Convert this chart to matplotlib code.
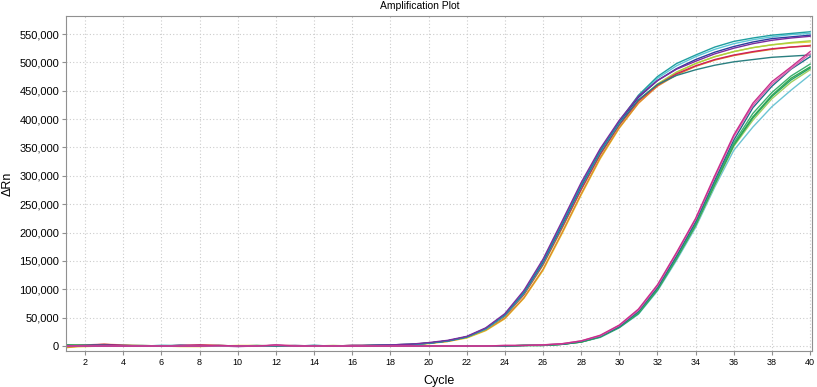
import numpy as np
import matplotlib
matplotlib.use("Agg")
import matplotlib.pyplot as plt
from matplotlib.ticker import StrMethodFormatter

plt.rcParams['font.family'] = ['Liberation Sans', 'DejaVu Sans']

cycles = np.arange(1, 41)

# early group (values in thousands of dRn)
a_purple = [1, 2, 2, 1, 0, 0, 1, 1, 0, -1, 0, 1, 0, 0, 0, 1, 1, 2, 3, 6, 10, 17, 32, 57, 98, 153, 220, 288, 348, 398, 440, 468, 488, 502, 515, 525, 533, 539, 543, 546]
a_teal = [0, 1, 1, 0, 0, 1, 1, 0, 0, 0, 1, 0, 0, 1, 0, 0, 1, 2, 3, 5, 9, 16, 31, 55, 95, 150, 216, 284, 345, 396, 442, 475, 498, 513, 527, 537, 543, 548, 551, 554]
a_cyan = [1, 0, 0, 1, 1, 0, 0, 0, 1, 0, 0, 0, 1, 0, 0, 1, 1, 1, 2, 5, 9, 16, 30, 54, 93, 147, 213, 281, 343, 394, 440, 472, 494, 510, 523, 533, 540, 545, 549, 551]
a_blue = [0, 1, 1, 0, 0, 0, 1, 0, 0, 0, 0, 1, 0, 0, 0, 0, 1, 2, 3, 5, 9, 16, 31, 55, 94, 148, 214, 282, 344, 395, 438, 468, 489, 505, 518, 528, 536, 542, 545, 548]
a_lime = [-1, 0, 1, 1, 0, 0, 0, 1, 1, 0, 0, 0, 0, 0, 1, 0, 1, 1, 2, 5, 9, 15, 29, 52, 90, 142, 207, 275, 337, 389, 432, 462, 483, 498, 510, 519, 526, 531, 535, 538]
a_red = [0, 2, 3, 1, 0, 0, 1, 2, 1, 0, 0, 1, 1, 0, 0, 1, 1, 2, 3, 5, 9, 16, 30, 53, 91, 144, 209, 276, 338, 390, 432, 460, 480, 494, 505, 513, 519, 524, 527, 529]
a_orange = [-3, 1, 3, 2, 1, 0, 1, 1, 1, 0, 0, 0, 0, 0, 0, 1, 1, 1, 2, 5, 8, 15, 28, 49, 85, 135, 200, 268, 332, 385, 428, 458, 478, 493, 504, 512, 518, 523, 527, 530]
a_yellow = [-2, -1, 0, 0, 0, 0, -1, -1, 0, 1, 1, 0, 0, 0, 0, 0, 1, 1, 2, 4, 8, 14, 27, 48, 84, 133, 198, 266, 330, 384, 428, 460, 482, 498, 510, 519, 526, 531, 534, 536]
a_darkteal = [1, 1, 0, 0, 0, 0, 0, 0, 0, 0, 0, 0, 0, 0, 0, 0, 1, 1, 2, 5, 9, 16, 30, 54, 93, 146, 212, 280, 341, 392, 434, 461, 477, 487, 495, 501, 505, 509, 511, 513]

# late group
b_magenta = [0, 0, 0, 0, 0, 0, 0, 0, 1, 0, 0, 2, 0, 0, 0, 0, 0, 0, 0, 0, 0, 0, 0, 1, 1, 2, 4, 9, 19, 37, 65, 108, 165, 225, 300, 372, 428, 466, 492, 519]
b_pink = [0, 0, 0, 0, 0, 0, 0, 0, 0, 0, 0, 1, 0, 0, 0, 0, 0, 0, 0, 0, 0, 0, 0, 1, 1, 2, 4, 9, 18, 36, 63, 106, 163, 223, 297, 369, 424, 462, 489, 515]
b_darkteal = [1, 0, 0, 0, 0, 0, 0, 0, 0, 0, 0, 0, 0, 1, 0, 0, 0, 0, 0, 0, 0, 0, 0, 0, 1, 2, 3, 8, 17, 34, 61, 103, 159, 219, 292, 363, 420, 458, 488, 510]
b_green = [2, 1, 1, 0, 0, 0, 0, 0, 0, 0, 0, 0, 0, 0, 0, 0, 0, 0, 0, 0, 0, 0, 0, 0, 1, 1, 3, 7, 16, 33, 58, 100, 155, 214, 286, 355, 404, 442, 472, 492]
b_green2 = [1, 1, 0, 0, 0, 0, 0, 0, 0, 0, 0, 0, 0, 0, 0, 0, 0, 0, 0, 0, 0, 0, 0, 0, 1, 2, 3, 8, 17, 34, 59, 101, 156, 216, 288, 358, 410, 447, 476, 497]
b_lime = [2, 1, 0, 0, 0, 0, 0, 0, 0, 0, 0, 0, 0, 0, 0, 0, 0, 0, 0, 0, 0, 0, 0, 0, 1, 1, 3, 7, 16, 33, 58, 99, 154, 212, 283, 352, 398, 436, 465, 487]
b_lightteal = [0, 0, 0, 0, 0, 1, 0, 0, 0, 0, 0, 0, 0, 0, 0, 0, 0, 0, 0, 0, 0, 0, 0, 0, 1, 1, 3, 7, 15, 32, 56, 97, 151, 209, 280, 345, 386, 422, 451, 478]
b_seagreen = [1, 0, 0, 0, 0, 0, 0, 0, 0, 0, 0, 0, 0, 0, 0, 0, 0, 0, 0, 0, 0, 0, 0, 0, 1, 1, 3, 7, 16, 33, 57, 99, 154, 213, 285, 354, 402, 440, 469, 490]

curves = [
    (a_yellow, '#e6d43a'), (a_orange, '#e0862a'), (a_lime, '#a8d040'),
    (a_red, '#d0205a'), (a_darkteal, '#2a7f80'), (a_cyan, '#5bc8d8'),
    (a_blue, '#2b3e9e'), (a_teal, '#1f9ea0'), (a_purple, '#7b2d9e'),
    (b_lightteal, '#6cc4d4'), (b_lime, '#a0d060'), (b_seagreen, '#28a070'),
    (b_green, '#30a850'), (b_green2, '#3cb070'), (b_darkteal, '#1f6f8a'),
    (b_pink, '#e060b0'), (b_magenta, '#c8308c'),
]

fig = plt.figure(figsize=(8.17, 3.87), dpi=100)
ax = fig.add_axes([66/817, 1-351/387, 746/817, 335/387])

for vals, col in curves:
    ax.plot(cycles, np.array(vals) * 1000, color=col, lw=1.0)

ax.set_xlim(1, 40.1)
ax.set_ylim(-8800, 581800)
ax.set_xticks(range(2, 41, 2))
ax.set_yticks(range(0, 550001, 50000))
ax.yaxis.set_major_formatter(StrMethodFormatter('{x:,.0f}'))
ax.tick_params(axis='x', labelsize=6.5, length=3, color='#909090', pad=2)
ax.tick_params(axis='y', labelsize=8, length=3, color='#909090', pad=2)
ax.grid(True, color='#cccccc', linestyle=(0, (1, 2)), lw=0.8)
for s in ax.spines.values():
    s.set_color('#909090')

fig.text(420/817, 1-6/387, 'Amplification Plot', ha='center', va='center', fontsize=7.5)
ax.set_xlabel('Cycle', fontsize=9, labelpad=6)
ax.set_ylabel('ΔRn', fontsize=9, labelpad=4)

plt.savefig('out.png', dpi=100)
